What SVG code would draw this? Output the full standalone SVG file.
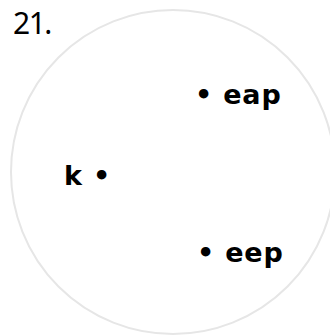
<svg xmlns="http://www.w3.org/2000/svg" width="330" height="335" viewBox="0 0 330 335">
<style>
.lbl{font-family:"DejaVu Sans","Noto Sans",sans-serif;font-weight:700;font-size:27px;fill:#000;letter-spacing:0.8px}
.num{font-family:"Noto Sans","DejaVu Sans",sans-serif;font-weight:400;font-size:30px;fill:#000}
</style>
<rect width="330" height="335" fill="#fff"/>
<g id="title"><text class="num" x="13" y="34" letter-spacing="-1.5">21.</text></g>
<g id="circle"><circle cx="173" cy="172" r="162" fill="none" stroke="#e6e6e6" stroke-width="2"/></g>
<g id="connectors"></g>
<g id="node-eap"><text class="lbl" x="195" y="104">• eap</text></g>
<g id="node-k"><text class="lbl" x="64" y="185">k •</text></g>
<g id="node-eep"><text class="lbl" x="197" y="262">• eep</text></g>
</svg>
